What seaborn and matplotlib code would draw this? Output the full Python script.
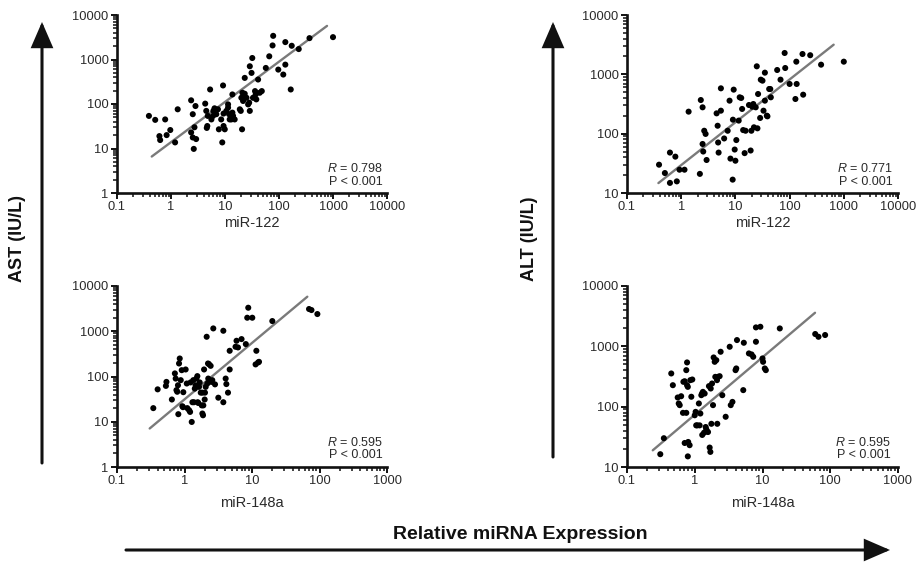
import matplotlib
matplotlib.use('Agg')
import matplotlib.pyplot as plt
import seaborn as sns
import numpy as np
import pandas as pd
from matplotlib.ticker import FixedLocator, FixedFormatter, LogLocator, NullFormatter
from matplotlib.patches import FancyArrowPatch

# AST vs miR-122 (top left)
ast122_x = [0.39, 0.51, 0.78, 0.61, 0.63, 0.83, 0.97, 1.19, 1.33, 2.36,
            2.53, 2.36, 2.53, 2.64, 2.72, 2.84, 2.92, 4.3, 4.5, 4.8,
            4.7, 4.6, 5.3, 5.6, 6.0, 6.1, 6.4, 6.9, 7.4, 7.7,
            8.5, 8.9, 9.2, 9.4, 9.9, 9.4, 10.6, 11.4, 11.4, 11.9,
            12.2, 13.1, 13.7, 13.7, 14.1, 15.1, 18.8, 19.6, 20.7, 20.1,
            21, 21.6, 23.2, 23.2, 25, 26.8, 28, 28.8, 28.8, 31,
            32, 33, 36, 37, 38, 41, 44, 48, 57, 66,
            76, 78, 97, 120, 131, 131, 165, 172, 232, 367, 1000]
ast122_y = [54, 44, 45, 19, 15.5, 20, 26, 13.7, 76, 121,
            59, 23, 17.7, 9.8, 30, 90, 16.3, 102, 70, 54,
            32, 29, 212, 45, 54, 70, 80, 59, 76, 27,
            45, 13.7, 261, 32, 27, 61, 70, 83, 98, 59,
            45, 45, 164, 64, 54, 45, 76, 70, 27, 138,
            179, 117, 386, 170, 138, 98, 107, 70, 705, 500,
            1080, 138, 195, 164, 127, 355, 179, 195, 646, 1180,
            2070, 3400, 593, 459, 767, 2460, 212, 2035, 1715, 3020, 3180]
ast122_fit_x = [0.44, 775]
ast122_fit_y = [6.6, 5690]

# ALT vs miR-122 (top right)
alt122_x = [0.39, 0.50, 0.62, 0.62, 0.78, 0.83, 0.93, 1.15, 1.37, 2.3,
            2.48, 2.21, 2.48, 2.55, 2.66, 2.82, 2.94, 4.5, 4.7, 4.8,
            4.9, 5.4, 5.4, 6.2, 7.2, 7.8, 8.1, 9.0, 9.3, 9.7,
            10, 8.9, 10.4, 11.5, 12, 12.8, 13.3, 13.9, 14.8, 15.4,
            17.8, 19.1, 19.7, 20.5, 21.4, 22, 23.7, 25.5, 24.8, 26.2,
            28.6, 29.4, 31.6, 33, 35, 35, 38, 39, 42, 44,
            45, 59, 68, 81, 83, 100, 128, 133, 135, 173,
            240, 178, 381, 1000]
alt122_y = [30, 21.7, 14.8, 48, 41, 15.7, 24.7, 24.7, 235, 369,
            278, 21, 67, 50, 112, 99, 36, 220, 136, 71,
            48, 244, 581, 83, 112, 360, 38, 172, 552, 54,
            35, 16.8, 78, 166, 410, 400, 261, 115, 47, 112,
            304, 52, 112, 285, 316, 128, 278, 123, 1365, 466,
            184, 813, 782, 244, 1067, 360, 201, 196, 566, 566,
            410, 1183, 813, 2290, 1278, 688, 384, 1635, 688, 2200,
            2100, 454, 1455, 1635]
alt122_fit_x = [0.38, 650]
alt122_fit_y = [14.7, 3160]

# AST vs miR-148a (bottom left)
ast148_x = [0.345, 0.40, 0.53, 0.54, 0.65, 0.72, 0.74, 0.76, 0.78, 0.80,
            0.81, 0.83, 0.85, 0.88, 0.91, 0.93, 0.95, 0.96, 1.04, 1.08,
            1.10, 1.17, 1.21, 1.23, 1.28, 1.31, 1.35, 1.38, 1.42, 1.46,
            1.50, 1.55, 1.57, 1.60, 1.64, 1.68, 1.74, 1.80, 1.84, 1.84,
            1.90, 1.88, 1.95, 1.99, 2.01, 2.06, 2.13, 2.18, 2.23, 2.25,
            2.31, 2.44, 2.50, 2.58, 2.67, 2.83, 3.17, 3.76, 3.76, 4.07,
            4.17, 4.41, 4.67, 4.67, 5.7, 5.9, 6.2, 7.0, 8.1, 8.8,
            8.5, 10.1, 11.3, 11.6, 12.3, 12.7, 20, 70, 76, 93]
ast148_y = [20, 52, 62, 76, 31, 117, 90, 50, 46, 64,
            14.7, 194, 250, 83, 138, 22, 21, 45, 143, 70,
            20, 18, 16.5, 74, 9.9, 27, 83, 27, 54, 64,
            90, 102, 27, 26, 59, 74, 44, 23, 44, 15.2,
            23, 13.9, 143, 31, 44, 59, 755, 70, 194, 90,
            187, 172, 76, 83, 1155, 67, 34, 27, 1025, 90,
            68, 44, 143, 370, 454, 616, 439, 671, 520, 3310,
            1990, 1990, 185, 370, 204, 211, 1680, 3100, 2940, 2400]
ast148_fit_x = [0.305, 66]
ast148_fit_y = [7.1, 5800]

# ALT vs miR-148a (bottom right)
alt148_x = [0.31, 0.35, 0.45, 0.475, 0.56, 0.58, 0.60, 0.63, 0.67, 0.68,
            0.71, 0.71, 0.75, 0.75, 0.77, 0.77, 0.79, 0.79, 0.80, 0.84,
            0.86, 0.89, 0.92, 1.0, 1.03, 1.05, 1.09, 1.15, 1.18, 1.21,
            1.25, 1.28, 1.29, 1.32, 1.40, 1.37, 1.45, 1.48, 1.51, 1.57,
            1.62, 1.66, 1.70, 1.72, 1.76, 1.80, 1.86, 1.90, 1.97, 2.01,
            2.08, 2.13, 2.15, 2.20, 2.33, 2.41, 2.55, 2.86, 3.28, 3.40,
            3.6, 4.0, 4.1, 4.2, 5.2, 5.3, 6.3, 6.9, 7.3, 8.0,
            8.0, 9.3, 10, 10.2, 10.8, 11.2, 18, 60, 67, 84]
alt148_y = [16.3, 30, 355, 227, 142, 113, 106, 149, 79, 258,
            264, 25, 79, 403, 541, 227, 213, 15, 26, 23,
            275, 146, 282, 72, 82, 49, 49, 113, 49, 77,
            155, 165, 34, 176, 165, 37, 46, 42, 39, 38,
            219, 21, 17.8, 200, 52, 242, 106, 654, 554, 312,
            590, 275, 52, 312, 320, 813, 155, 68, 984, 106,
            120, 403, 430, 1270, 188, 1146, 763, 734, 671, 1191,
            2060, 2110, 630, 554, 430, 403, 1980, 1600, 1440, 1540]
alt148_fit_x = [0.24, 59.6]
alt148_fit_y = [18.9, 3600]

x_ticks_122 = [0.1, 1, 10, 100, 1000, 10000]
x_ticks_148 = [0.1, 1, 10, 100, 1000]
y_ticks_ast = [1, 10, 100, 1000, 10000]
y_ticks_alt = [10, 100, 1000, 10000]

r_texts = ['0.798', '0.771', '0.595', '0.595']

sns.set_style('ticks')
plt.rcParams['font.family'] = ['Liberation Sans', 'DejaVu Sans']
plt.rcParams['mathtext.fontset'] = 'custom'
plt.rcParams['mathtext.it'] = 'Liberation Sans:italic'
plt.rcParams['mathtext.rm'] = 'Liberation Sans'

W, H = 917, 562
fig = plt.figure(figsize=(W / 100, H / 100), dpi=100)


def px_axes(left, top, right, bottom):
    return fig.add_axes([left / W, 1 - bottom / H, (right - left) / W, (bottom - top) / H])


def draw_panel(ax, x, y, fit_x, fit_y, xticks, yticks, xlabel, r_val, rx, ry):
    df = pd.DataFrame({'x': x, 'y': y})
    ax.set_xscale('log')
    ax.set_yscale('log')
    sns.lineplot(x=fit_x, y=fit_y, ax=ax, color='#7a7a7a', lw=1.7, zorder=2)
    sns.scatterplot(data=df, x='x', y='y', ax=ax, color='black', s=19,
                    edgecolor='none', linewidth=0, zorder=3)
    ax.set_xlim(xticks[0], xticks[-1])
    ax.set_ylim(yticks[0], yticks[-1])
    ax.xaxis.set_major_locator(FixedLocator(xticks))
    ax.xaxis.set_major_formatter(FixedFormatter(['%g' % t for t in xticks]))
    ax.yaxis.set_major_locator(FixedLocator(yticks))
    ax.yaxis.set_major_formatter(FixedFormatter(['%g' % t for t in yticks]))
    ax.xaxis.set_minor_locator(LogLocator(base=10, subs=np.arange(2, 10), numticks=20))
    ax.yaxis.set_minor_locator(LogLocator(base=10, subs=np.arange(2, 10), numticks=20))
    ax.xaxis.set_minor_formatter(NullFormatter())
    ax.yaxis.set_minor_formatter(NullFormatter())
    sns.despine(ax=ax)
    for s in ['left', 'bottom']:
        ax.spines[s].set_linewidth(1.9)
        ax.spines[s].set_color('#111111')
    ax.tick_params(which='major', direction='out', length=4.5, width=1.4,
                   labelsize=9.3, pad=1.5, color='#111111', labelcolor='#2a2a2a')
    ax.tick_params(which='minor', direction='out', length=3, width=1.1, color='#111111')
    ax.set_xlabel(xlabel, fontsize=10.5, color='#2a2a2a', labelpad=2)
    ax.set_ylabel('')
    ax.text(rx, ry, r'$\mathit{R}$ = ' + r_val, transform=ax.transAxes,
            ha='right', va='center', fontsize=9, color='#2a2a2a')
    ax.text(rx, ry - 0.073, 'P < 0.001', transform=ax.transAxes,
            ha='right', va='center', fontsize=9, color='#2a2a2a')


ax1 = px_axes(117, 15, 387, 193)
ax2 = px_axes(627, 15, 898, 193)
ax3 = px_axes(117, 286, 387, 467)
ax4 = px_axes(627, 286, 898, 467)

draw_panel(ax1, ast122_x, ast122_y, ast122_fit_x, ast122_fit_y, x_ticks_122, y_ticks_ast,
           'miR-122', r_texts[0], 0.985, 0.135)
draw_panel(ax2, alt122_x, alt122_y, alt122_fit_x, alt122_fit_y, x_ticks_122, y_ticks_alt,
           'miR-122', r_texts[1], 0.98, 0.135)
draw_panel(ax3, ast148_x, ast148_y, ast148_fit_x, ast148_fit_y, x_ticks_148, y_ticks_ast,
           'miR-148a', r_texts[2], 0.985, 0.138)
draw_panel(ax4, alt148_x, alt148_y, alt148_fit_x, alt148_fit_y, x_ticks_148, y_ticks_alt,
           'miR-148a', r_texts[3], 0.975, 0.138)
ax3.xaxis.labelpad = 6
ax4.xaxis.labelpad = 6


def fig_arrow(x0, y0, x1, y1):
    arr = FancyArrowPatch((x0 / W, 1 - y0 / H), (x1 / W, 1 - y1 / H),
                          transform=fig.transFigure,
                          arrowstyle='-|>,head_length=15,head_width=6.5',
                          mutation_scale=1, lw=2.2, color='#111111',
                          shrinkA=0, shrinkB=0, joinstyle='miter')
    fig.add_artist(arr)


fig_arrow(42, 463, 42, 22)
fig_arrow(553, 457, 553, 22)
fig_arrow(126, 550, 890, 550)

fig.text(18 / W, 1 - 239 / H, 'AST (IU/L)', rotation=90, ha='center', va='center',
         fontsize=13, fontweight='bold', color='#111111')
fig.text(530 / W, 1 - 239 / H, 'ALT (IU/L)', rotation=90, ha='center', va='center',
         fontsize=13, fontweight='bold', color='#111111')
fig.text(520 / W, 1 - 539 / H, 'Relative miRNA Expression', ha='center', va='baseline',
         fontsize=14, fontweight='bold', color='#111111')

fig.savefig('out.png', dpi=100)
